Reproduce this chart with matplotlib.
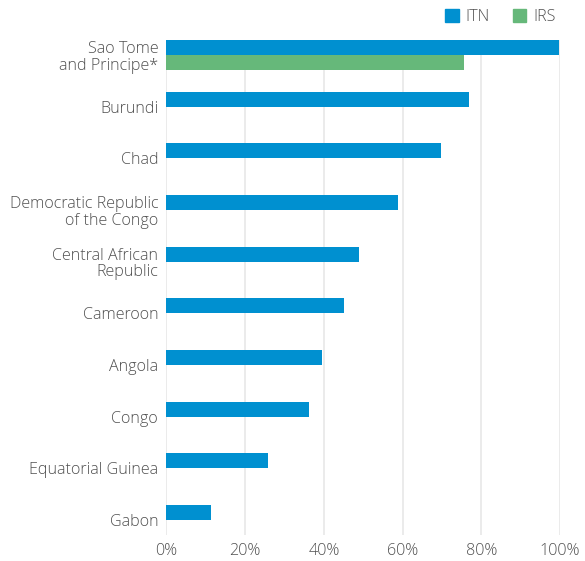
import numpy as np
import matplotlib.pyplot as plt
from matplotlib.patches import Patch

plt.rcParams['font.family'] = ['Open Sans', 'DejaVu Sans']
plt.rcParams['font.weight'] = 'light'
plt.rcParams['font.size'] = 11.6

countries = ['Sao Tome\nand Principe*', 'Burundi', 'Chad',
             'Democratic Republic\nof the Congo', 'Central African\nRepublic',
             'Cameroon', 'Angola', 'Congo', 'Equatorial Guinea', 'Gabon']
itn = [99.8, 76.9, 69.8, 58.8, 48.9, 45.1, 39.5, 36.2, 25.8, 11.3]
irs = [75.6, 0, 0, 0, 0, 0, 0, 0, 0, 0]
ticks = [0, 20, 40, 60, 80, 100]

c_itn = '#0090d0'
c_irs = '#66b87a'
c_text = '#505050'
c_grid = '#e8e8e8'

fig = plt.figure(figsize=(5.85, 5.61), dpi=100)
ax = fig.add_axes([0.2846, 0.0463, 0.6727, 0.8824])

h = 0.29
y = np.arange(len(countries))
ax.barh(y - h / 2, itn, height=h, color=c_itn, zorder=2)
ax.barh(y + h / 2, irs, height=h, color=c_irs, zorder=2)

ax.set_ylim(len(countries) - 1 + h, -h)
ax.set_xlim(0, 100)
ax.set_yticks(y)
ax.set_yticklabels(countries, color=c_text, linespacing=1.05)
ax.set_xticks(ticks)
ax.set_xticklabels(['{}%'.format(t) for t in ticks], color=c_text)
ax.tick_params(axis='both', length=0)
ax.tick_params(axis='y', pad=6)
ax.tick_params(axis='x', pad=6)
ax.grid(axis='x', color=c_grid, lw=1.2, zorder=0)
for s in ax.spines.values():
    s.set_visible(False)

handles = [Patch(color=c_itn, label='ITN'), Patch(color=c_irs, label='IRS')]
fig.legend(handles=handles, loc='upper right', bbox_to_anchor=(0.975, 1.01),
           ncol=2, frameon=False, handlelength=0.85, handleheight=0.85,
           handletextpad=0.45, columnspacing=1.4, labelcolor=c_text)

fig.savefig('out.png', dpi=100)
